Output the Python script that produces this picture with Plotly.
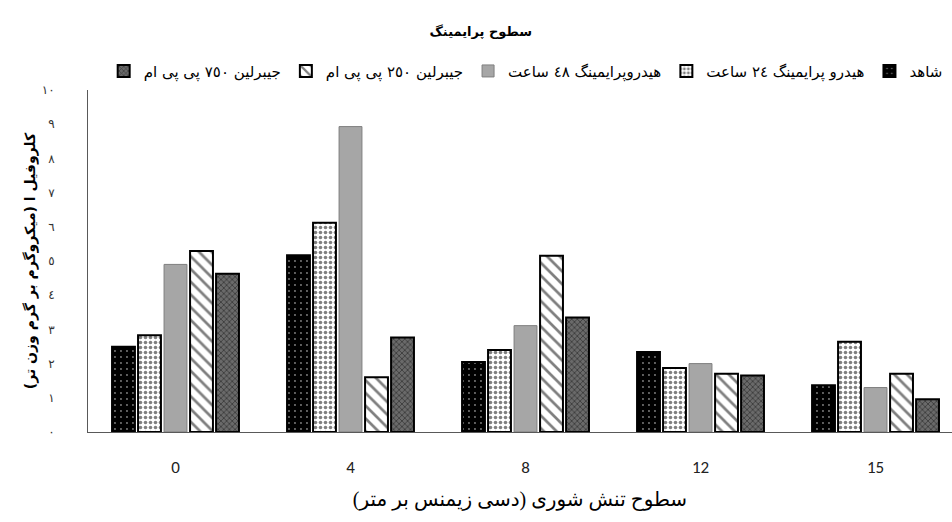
import plotly.graph_objects as go

# Salinity levels (dS/m) on the category axis
salinity = ["0", "4", "8", "12", "15"]

# Chlorophyll a per priming treatment
control = [2.49, 5.17, 2.05, 2.34, 1.37]
hydro_24h = [2.83, 6.12, 2.40, 1.87, 2.64]
hydro_48h = [4.90, 8.93, 3.11, 2.00, 1.30]
ga_250 = [5.29, 1.60, 5.15, 1.70, 1.70]
ga_750 = [4.63, 2.76, 3.35, 1.65, 0.96]

series_names = [
    "شاهد",
    "هیدرو پرایمینگ ٢٤ ساعت",
    "هیدروپرایمینگ ٤٨ ساعت",
    "جیبرلین ٢٥٠ پی پی ام",
    "جیبرلین ٧٥٠ پی پی ام",
]

y_tick_vals = [0, 1, 2, 3, 4, 5, 6, 7, 8, 9, 10]
y_tick_text = ["٠", "١", "٢", "٣", "٤", "٥", "٦", "٧", "٨", "٩", "١٠"]

FONT = "DejaVu Sans"

styles = [
    dict(color="#000000", line=dict(color="#000000", width=2),
         pattern=dict(shape=".", fgcolor="#ffffff", bgcolor="#000000", size=6, solidity=0.08)),
    dict(color="#ffffff", line=dict(color="#000000", width=2),
         pattern=dict(shape=".", fgcolor="#000000", bgcolor="#ffffff", size=5, solidity=0.4)),
    dict(color="#a6a6a6", line=dict(color="#7f7f7f", width=1)),
    dict(color="#ffffff", line=dict(color="#000000", width=2),
         pattern=dict(shape="\\", fgcolor="#000000", bgcolor="#ffffff", size=9, solidity=0.3)),
    dict(color="#555555", line=dict(color="#000000", width=2),
         pattern=dict(shape="x", fgcolor="#111111", bgcolor="#6a6a6a", size=4, solidity=0.4)),
]

fig = go.Figure()
for name, vals, st in zip(series_names, [control, hydro_24h, hydro_48h, ga_250, ga_750], styles):
    fig.add_trace(go.Bar(x=salinity, y=vals, name=name, marker=st))

fig.update_layout(
    width=952, height=522,
    margin=dict(l=88, r=0, t=90, b=90, autoexpand=False),
    paper_bgcolor="white", plot_bgcolor="white",
    barmode="group", bargap=0.257, bargroupgap=0.12,
    font=dict(family=FONT, color="#000000"),
    title=dict(text="<b>سطوح پرایمینگ</b>", x=0.505, xanchor="center", y=0.94, yanchor="middle",
               font=dict(family=FONT, size=13, color="#000000")),
    legend=dict(orientation="h", traceorder="reversed", x=0.995, xanchor="right", y=1.055, yanchor="middle",
                font=dict(family=FONT, size=15, color="#000000"), itemwidth=30,
                bgcolor="rgba(0,0,0,0)"),
    showlegend=True,
)

fig.update_xaxes(
    range=[-0.5, 4.437], showline=True, linecolor="#595959", linewidth=1,
    ticks="", ticklabelstandoff=20,
    tickfont=dict(family="Carlito, Liberation Sans", size=17, color="#222222"),
    title=dict(text="سطوح تنش شوری (دسی زیمنس بر متر)", standoff=14,
               font=dict(family="Liberation Serif, " + FONT, size=20, color="#000000")),
    showgrid=False, zeroline=False,
)
fig.update_yaxes(
    range=[0, 10], tickvals=y_tick_vals, ticktext=y_tick_text, showline=True,
    linecolor="#595959", linewidth=1, ticks="", ticklabelstandoff=30,
    tickfont=dict(family=FONT, size=12, color="#333333"),
    title=dict(text="<b>کلروفیل ا (میکروگرم بر گرم وزن تر)</b>", standoff=2,
               font=dict(family=FONT, size=14, color="#000000")),
    showgrid=False, zeroline=False,
)

fig.write_html("out.html")
